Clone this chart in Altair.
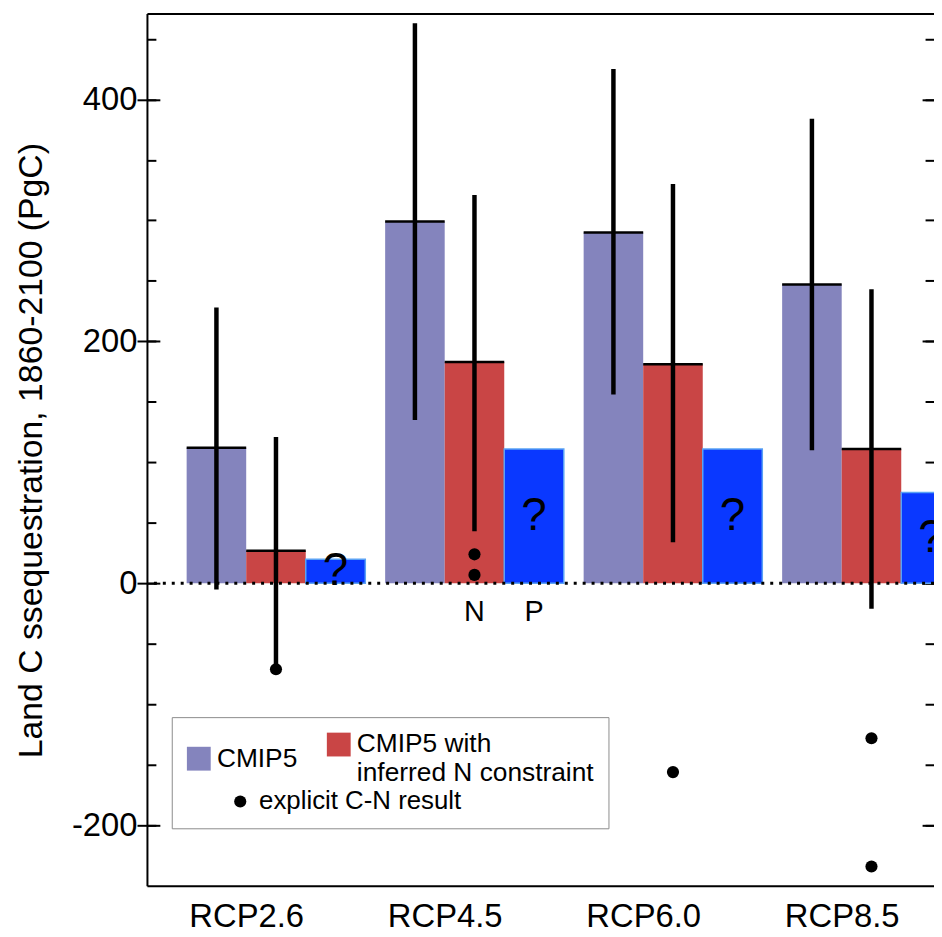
import altair as alt
import pandas as pd

# ---------------- data ----------------
groups = ["RCP2.6", "RCP4.5", "RCP6.0", "RCP8.5"]
cmip5 = [112, 299, 290, 247]
cmip5_n = [27, 183, 181, 111]
p_limited = [20, 111, 111, 75]
cmip5_lo = [-5, 135, 156, 110]
cmip5_hi = [228, 463, 425, 384]
n_lo = [-71, 43, 34, -21]
n_hi = [121, 321, 330, 243]
cn_group = ["RCP2.6", "RCP4.5", "RCP4.5", "RCP6.0", "RCP8.5", "RCP8.5"]
cn_value = [-71, 24, 7, -156, -128, -234]
note_text = ["N", "P"]
note_group = ["RCP4.5", "RCP4.5"]
note_series = ["n", "p"]
note_value = [-31, -31]
y_major = [-200, 0, 200, 400]
y_minor = [-200, -150, -100, -50, 0, 50, 100, 150, 200, 250, 300, 350, 400, 450]

S_C = "CMIP5"
S_N = "CMIP5 with inferred N constraint"
S_D = "explicit C-N result"

# ---------------- layout / style ----------------
FONT = "Liberation Sans"
W, H = 793, 879
GROUP_PX = 200.0
XMAX = W / GROUP_PX
YMIN, YMAX = -250, 471
OFFS = {"c": 0.2, "n": 0.5, "p": 0.8}
BW = 0.3
PURPLE = "#8484bd"
RED = "#c94545"
BLUE = "#0a38ff"
BLUE_EDGE = "#5aa2f5"

rows = []
for gi, g in enumerate(groups):
    for key, name, vals, lo, hi in [("c", S_C, cmip5, cmip5_lo, cmip5_hi),
                                    ("n", S_N, cmip5_n, n_lo, n_hi),
                                    ("p", "P", p_limited, None, None)]:
        x0 = gi + OFFS[key]
        rows.append(dict(group=g, key=key, series=name, value=vals[gi],
                         lo=(lo[gi] if lo else None), hi=(hi[gi] if hi else None),
                         x0=x0, x1=x0 + BW, xc=x0 + BW / 2, mid=vals[gi] / 2, base=0))
df = pd.DataFrame(rows)
df_cn = df[df.key != "p"]
df_p = df[df.key == "p"]
df_err = df_cn

df_dots = pd.DataFrame({"group": cn_group, "value": cn_value, "series": S_D})
df_dots["xc"] = [groups.index(g) + OFFS["n"] + BW / 2 for g in cn_group]

df_notes = pd.DataFrame({"label": note_text, "group": note_group, "value": note_value})
df_notes["xc"] = [groups.index(g) + OFFS[s] + BW / 2 for g, s in zip(note_group, note_series)]

zero_df = pd.DataFrame({"y": [0]})

xs = alt.Scale(domain=[0, XMAX], nice=False, zero=False)
ys = alt.Scale(domain=[YMIN, YMAX], nice=False, zero=False)
fs = alt.Scale(domain=[S_C, S_N], range=[PURPLE, RED])
ds = alt.Scale(domain=[S_D], range=["black"])

label_expr = "[" + ",".join("'%s'" % g for g in groups) + "][floor(datum.value)]"
bottom_axis = alt.Axis(orient="bottom", values=[i + 0.5 for i in range(len(groups))],
                       labelExpr=label_expr, ticks=False, grid=False, domain=True,
                       domainColor="black", domainWidth=2, labelFontSize=33,
                       labelColor="black", labelPadding=15, title=None, labelFont=FONT)
top_axis = alt.Axis(orient="top", labels=False, ticks=False, grid=False, domain=True,
                    domainColor="black", domainWidth=2, title=None)
left_axis = alt.Axis(orient="left", values=y_major, tickSize=10, tickWidth=2, tickColor="black",
                     domain=True, domainColor="black", domainWidth=2, grid=False,
                     labelExpr="'' + datum.value",
                     labelFontSize=33, labelFont=FONT, labelColor="black", labelPadding=0,
                     title="Land C ssequestration, 1860-2100 (PgC)", titleFont=FONT,
                     titleFontSize=34, titleFontWeight="normal", titleColor="black",
                     titleAngle=270, titleBaseline="bottom", titleAlign="center",
                     titleX=-99, titleY=440)


def tick_axis(orient, values, size):
    return alt.Axis(orient=orient, offset=-W, values=values, tickSize=size, tickWidth=2,
                    tickColor="black", labels=False, domain=False, grid=False, title=None)


# legend box with the two bar series; an empty bottom title leaves room for the dot entry
legend_bars = alt.Legend(
    orient="none", legendX=25, legendY=709, direction="horizontal",
    values=[S_C, S_N], title="\u00a0", titleOrient="bottom", titleFontSize=20, titlePadding=8,
    labelFont=FONT, labelFontSize=26.5, labelLimit=400, labelOffset=5, labelColor="black",
    symbolType="square", symbolSize=576, symbolStrokeWidth=0, symbolOpacity=1,
    strokeColor="#8c8c8c", fillColor="white", padding=14, columnPadding=28,
    labelExpr="datum.label == '%s' ? ['CMIP5 with', 'inferred N constraint'] : datum.label" % S_N,
)
legend_dots = alt.Legend(
    orient="none", legendX=81, legendY=781, title=None, values=[S_D],
    labelFont=FONT, labelFontSize=26, labelLimit=400, labelOffset=6, labelColor="black",
    symbolType="circle", symbolSize=150, symbolStrokeWidth=0, symbolOpacity=1, padding=0,
)

bars_cn = alt.Chart(df_cn).mark_bar(clip=True).encode(
    x=alt.X("x0:Q", scale=xs, axis=bottom_axis),
    x2="x1:Q",
    y=alt.Y("value:Q", scale=ys, axis=left_axis),
    y2="base:Q",
    fill=alt.Fill("series:N", scale=fs, legend=legend_bars),
)

top_lines = alt.Chart(df_cn).mark_rule(color="black", strokeWidth=2.5, clip=True).encode(
    x=alt.X("x0:Q", scale=xs, axis=None),
    x2="x1:Q",
    y=alt.Y("value:Q", scale=ys, axis=tick_axis("right", y_minor, 9)),
)

blue = alt.Chart(df_p).mark_bar(color=BLUE, stroke=BLUE_EDGE, strokeWidth=1.5, clip=True).encode(
    x=alt.X("x0:Q", scale=xs, axis=None),
    x2="x1:Q",
    y=alt.Y("value:Q", scale=ys, axis=tick_axis("left", y_minor, 9)),
    y2="base:Q",
)

qmarks = alt.Chart(df_p).mark_text(text="?", fontSize=46, font=FONT, color="black",
                                   baseline="middle", clip=True).encode(
    x=alt.X("xc:Q", scale=xs, axis=top_axis),
    y=alt.Y("mid:Q", scale=ys, axis=tick_axis("right", y_major, 13)),
)

zero = alt.Chart(zero_df).mark_rule(color="black", strokeWidth=3, strokeDash=[3, 6]).encode(
    y=alt.Y("y:Q", scale=ys, axis=None),
)

err = alt.Chart(df_err).mark_rule(color="black", strokeWidth=4.5, clip=True).encode(
    x=alt.X("xc:Q", scale=xs, axis=None),
    y=alt.Y("lo:Q", scale=ys, axis=tick_axis("left", y_major, 12)),
    y2="hi:Q",
)

dots = alt.Chart(df_dots).mark_circle(size=150, opacity=1).encode(
    x=alt.X("xc:Q", scale=xs, axis=None),
    y=alt.Y("value:Q", scale=ys, axis=None),
    color=alt.Color("series:N", scale=ds, legend=legend_dots),
)

notes = alt.Chart(df_notes).mark_text(fontSize=29, font=FONT, color="black",
                                      baseline="alphabetic").encode(
    x=alt.X("xc:Q", scale=xs, axis=None),
    y=alt.Y("value:Q", scale=ys, axis=None),
    text="label:N",
)

chart = (
    alt.layer(bars_cn, top_lines, blue, qmarks, zero, err, dots, notes)
    .resolve_scale(x="shared", y="shared")
    .resolve_axis(x="independent", y="independent")
    .properties(width=W, height=H, autosize=alt.AutoSizeParams(type="none"),
                padding={"left": 140, "top": 2, "right": 0, "bottom": 44})
    .configure_view(stroke="transparent")
    .configure(background="white")
)

chart.save("out.html", embed_options={"renderer": "svg", "actions": False})
